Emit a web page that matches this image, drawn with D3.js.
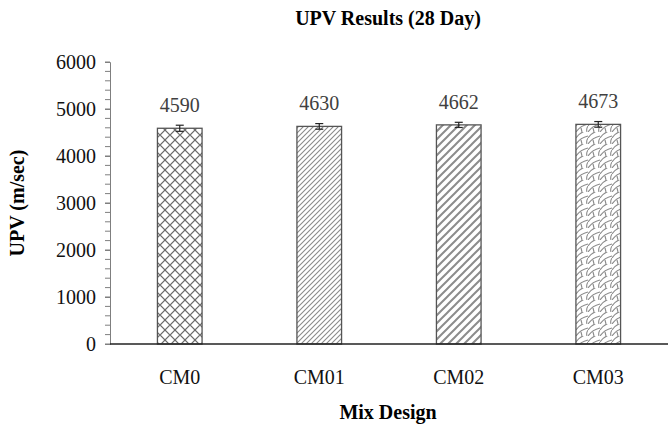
<!DOCTYPE html>
<html>
<head>
<meta charset="utf-8">
<script src="https://cdn.jsdelivr.net/npm/d3@7"></script>
<style>
  body { margin: 0; background: #fff; }
  svg text { font-family: "Liberation Serif", "Times New Roman", serif; }
</style>
</head>
<body>
<svg id="chart" width="672" height="427"></svg>
<script>
// data
const mixes = ["CM0", "CM01", "CM02", "CM03"];
const upv = [4590, 4630, 4662, 4673];
const upvErr = [65, 60, 55, 60];
const yTicks = [0, 1000, 2000, 3000, 4000, 5000, 6000];
const patternIds = ["pCross", "pFine", "pWide", "pShingle"];

var width = 672, height = 427;
var margin = {top: 62, right: 4, bottom: 83, left: 110};

var svg = d3.select("#chart");

// hatch patterns
var defs = svg.append("defs");

var p1 = defs.append("pattern").attr("id", "pCross")
  .attr("patternUnits", "userSpaceOnUse").attr("width", 10).attr("height", 10);
p1.append("rect").attr("width", 10).attr("height", 10).attr("fill", "#fff");
p1.append("path").attr("d", "M0,5 L5,0 L10,5 L5,10 Z")
  .attr("fill", "none").attr("stroke", "#6b6b6b").attr("stroke-width", 1.2);

var p2 = defs.append("pattern").attr("id", "pFine")
  .attr("patternUnits", "userSpaceOnUse").attr("width", 5).attr("height", 5);
p2.append("rect").attr("width", 5).attr("height", 5).attr("fill", "#fff");
p2.append("path").attr("d", "M-1,6 L6,-1 M-1,1 L1,-1 M4,6 L6,4")
  .attr("stroke", "#8a8a8a").attr("stroke-width", 1.1);

var p3 = defs.append("pattern").attr("id", "pWide")
  .attr("patternUnits", "userSpaceOnUse").attr("width", 8).attr("height", 8);
p3.append("rect").attr("width", 8).attr("height", 8).attr("fill", "#fff");
p3.append("path").attr("d", "M-2,10 L10,-2 M-2,2 L2,-2 M6,10 L10,6")
  .attr("stroke", "#8c8c8c").attr("stroke-width", 2);

var p4 = defs.append("pattern").attr("id", "pShingle")
  .attr("patternUnits", "userSpaceOnUse").attr("width", 12).attr("height", 12);
p4.append("rect").attr("width", 12).attr("height", 12).attr("fill", "#fff");
p4.append("path").attr("d", "M0,12 Q4,6 12,4 M0,6 Q4,0 12,-2 M6,12 L5,8 M12,6 Q10,9 11,12")
  .attr("fill", "none").attr("stroke", "#8a8a8a").attr("stroke-width", 1.1);

var x = d3.scaleBand().domain(mixes)
  .range([margin.left, width - margin.right])
  .paddingInner(0.68).paddingOuter(0.34);
var y = d3.scaleLinear().domain([0, 6000])
  .range([height - margin.bottom, margin.top]);

// y axis with minor ticks
var minor = d3.range(0, 6001, 200);
svg.append("g").selectAll("line").data(minor).enter().append("line")
  .attr("x1", margin.left - 5).attr("x2", margin.left)
  .attr("y1", function(d) { return y(d); })
  .attr("y2", function(d) { return y(d); })
  .attr("stroke", "#7f7f7f").attr("stroke-width", 1);

var yAxis = svg.append("g")
  .attr("transform", "translate(" + margin.left + ",0)")
  .call(d3.axisLeft(y).tickValues(yTicks).tickFormat(d3.format("d"))
    .tickSize(5).tickPadding(9));
yAxis.attr("font-family", null);
yAxis.select(".domain").attr("stroke", "#7f7f7f");
yAxis.selectAll(".tick line").attr("stroke", "#7f7f7f");
yAxis.selectAll("text").style("font-size", "20px").attr("fill", "#111");

// bars
svg.append("g").selectAll("rect").data(mixes).enter().append("rect")
  .attr("x", function(d) { return x(d); })
  .attr("y", function(d, i) { return y(upv[i]); })
  .attr("width", x.bandwidth())
  .attr("height", function(d, i) { return y(0) - y(upv[i]); })
  .attr("fill", function(d, i) { return "url(#" + patternIds[i] + ")"; })
  .attr("stroke", "#555").attr("stroke-width", 1.3);

// error bars
var eb = svg.append("g").attr("stroke", "#222").attr("stroke-width", 1.2);
mixes.forEach(function(m, i) {
  var cx = x(m) + x.bandwidth() / 2;
  eb.append("line").attr("x1", cx).attr("x2", cx)
    .attr("y1", y(upv[i] - upvErr[i])).attr("y2", y(upv[i] + upvErr[i]));
  eb.append("line").attr("x1", cx - 4).attr("x2", cx + 4)
    .attr("y1", y(upv[i] - upvErr[i])).attr("y2", y(upv[i] - upvErr[i]));
  eb.append("line").attr("x1", cx - 4).attr("x2", cx + 4)
    .attr("y1", y(upv[i] + upvErr[i])).attr("y2", y(upv[i] + upvErr[i]));
});

// value labels
svg.append("g").selectAll("text").data(mixes).enter().append("text")
  .attr("x", function(d) { return x(d) + x.bandwidth() / 2; })
  .attr("y", function(d, i) { return y(upv[i]) - 16; })
  .attr("text-anchor", "middle")
  .style("font-size", "20px").attr("fill", "#404040")
  .text(function(d, i) { return upv[i]; });

// x axis
var xAxis = svg.append("g")
  .attr("transform", "translate(0," + y(0) + ")")
  .call(d3.axisBottom(x).tickSize(0).tickPadding(26).tickSizeOuter(0));
xAxis.attr("font-family", null);
xAxis.select(".domain").attr("stroke", "#222").attr("stroke-width", 1.3)
  .attr("d", "M" + margin.left + ",0H" + (width - margin.right));
xAxis.selectAll("text").style("font-size", "20px").attr("fill", "#111");

// titles
svg.append("text")
  .attr("x", 388).attr("y", 25)
  .attr("text-anchor", "middle")
  .style("font-size", "20px").attr("font-weight", "bold")
  .text("UPV Results (28 Day)");

svg.append("text")
  .attr("x", 388).attr("y", 419)
  .attr("text-anchor", "middle")
  .style("font-size", "20px").attr("font-weight", "bold")
  .text("Mix Design");

svg.append("text")
  .attr("transform", "translate(24," + y(3000) + ") rotate(-90)")
  .attr("text-anchor", "middle")
  .style("font-size", "20px").attr("font-weight", "bold")
  .text("UPV (m/sec)");
</script>
</body>
</html>
